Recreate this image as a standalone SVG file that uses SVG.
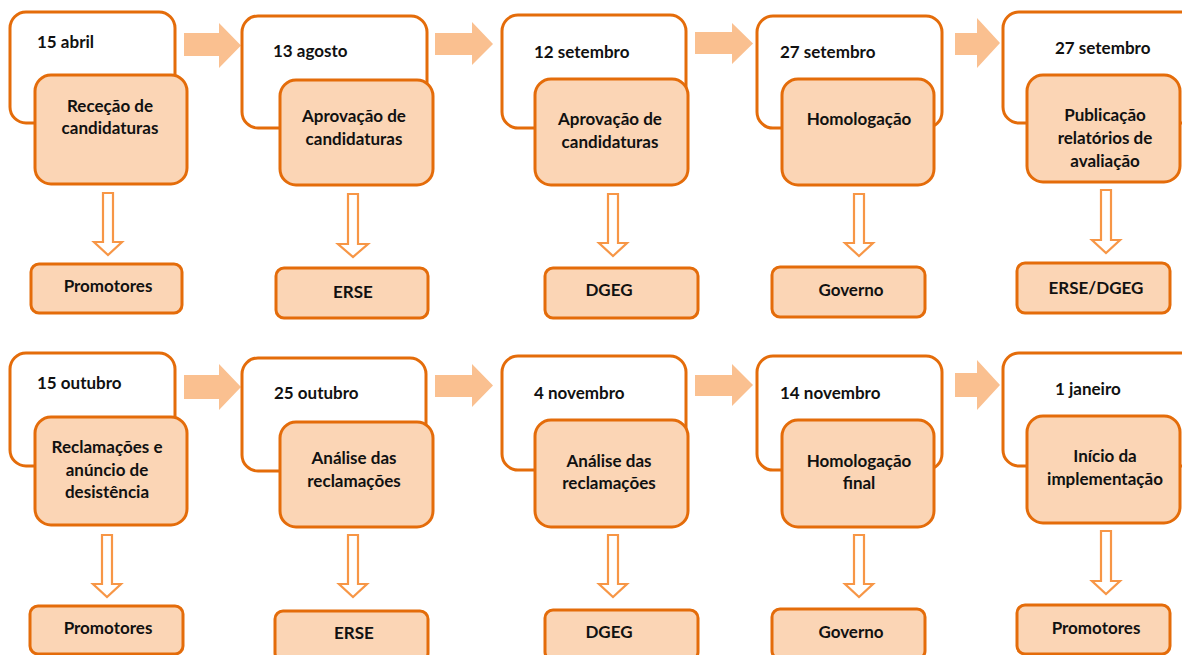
<svg xmlns="http://www.w3.org/2000/svg" width="1182" height="655" viewBox="0 0 1182 655">
<defs>
<style>
.outer{fill:#FFFFFF;stroke:#E46C0A;stroke-width:3}
.inner{fill:#FBD5B5;stroke:#E46C0A;stroke-width:3}
.who{fill:#FBD5B5;stroke:#E46C0A;stroke-width:3}
.blk{fill:#FAC090;stroke:none}
.hol{fill:#FFFFFF;stroke:#F79646;stroke-width:2.2;stroke-linejoin:miter}
text{font-family:Lato,"Open Sans","Liberation Sans",sans-serif;font-weight:bold;font-size:17px;fill:#111111}
.c{text-anchor:middle}
</style>
</defs>
<rect width="1182" height="655" fill="#FFFFFF"/>

<g id="connectors">
<path class="blk" d="M184,33 H219 V23 L241,45.5 L219,68 V56 H184 Z"/>
<path class="blk" d="M435,33 H472 V22 L493,44 L472,65 V55 H435 Z"/>
<path class="blk" d="M695,32 H732 V23 L753,43.5 L732,64 V54 H695 Z"/>
<path class="blk" d="M955,33 H977 V18 L1000,43 L977,68 V55 H955 Z"/>
<path class="blk" d="M184,375 H219 V364 L241,387 L219,410 V399 H184 Z"/>
<path class="blk" d="M435,375 H472 V364 L493,385.5 L472,407 V397 H435 Z"/>
<path class="blk" d="M695,375 H732 V364 L753,385 L732,406 V396 H695 Z"/>
<path class="blk" d="M955,373 H977 V360 L1000,385 L977,410 V397 H955 Z"/>

<path class="hol" d="M103,193 H113 V242 H122 L108,255 L94,242 H103 Z"/>
<path class="hol" d="M348,194 H358 V244 H368 L353,257 L338,244 H348 Z"/>
<path class="hol" d="M608,194 H618 V243 H627 L613,256 L599,243 H608 Z"/>
<path class="hol" d="M854,194 H864 V243 H873 L859,256 L845,243 H854 Z"/>
<path class="hol" d="M1101,190 H1111 V240 H1120 L1106,253 L1092,240 H1101 Z"/>
<path class="hol" d="M102,535 H112 V584 H121 L107,597 L93,584 H102 Z"/>
<path class="hol" d="M348,535 H358 V584 H367 L353,597 L339,584 H348 Z"/>
<path class="hol" d="M608,535 H618 V584 H627 L613,597 L599,584 H608 Z"/>
<path class="hol" d="M854,535 H864 V584 H873 L859,597 L845,584 H854 Z"/>
<path class="hol" d="M1101,531 H1111 V581 H1120 L1106,594 L1092,581 H1101 Z"/>
</g>

<g id="step1">
<rect class="outer" x="10" y="12" width="165" height="111" rx="16"/>
<text x="37" y="48">15 abril</text>
<rect class="inner" x="35" y="75" width="152" height="109" rx="16"/>
<text class="c" x="110" y="112">Receção de</text>
<text class="c" x="110" y="134">candidaturas</text>
</g>
<g id="who1"><rect class="who" x="31" y="264" width="151" height="49" rx="8"/><text class="c" x="108" y="292">Promotores</text></g>

<g id="step2">
<rect class="outer" x="242" y="16" width="185" height="112" rx="16"/>
<text x="273" y="57">13 agosto</text>
<rect class="inner" x="280" y="80" width="153" height="105" rx="16"/>
<text class="c" x="354" y="122">Aprovação de</text>
<text class="c" x="354" y="145">candidaturas</text>
</g>
<g id="who2"><rect class="who" x="276" y="268" width="152" height="50" rx="8"/><text class="c" x="353" y="298">ERSE</text></g>

<g id="step3">
<rect class="outer" x="502" y="15" width="184" height="113" rx="16"/>
<text x="534" y="58">12 setembro</text>
<rect class="inner" x="535" y="79" width="153" height="106" rx="16"/>
<text class="c" x="610" y="125">Aprovação de</text>
<text class="c" x="610" y="148">candidaturas</text>
</g>
<g id="who3"><rect class="who" x="545" y="268" width="153" height="50" rx="8"/><text class="c" x="609" y="296">DGEG</text></g>

<g id="step4">
<rect class="outer" x="757" y="16" width="185" height="112" rx="16"/>
<text x="780" y="58">27 setembro</text>
<rect class="inner" x="782" y="79" width="152" height="106" rx="16"/>
<text class="c" x="859" y="125">Homologação</text>
</g>
<g id="who4"><rect class="who" x="772" y="267" width="153" height="50" rx="8"/><text class="c" x="851" y="296">Governo</text></g>

<g id="step5">
<rect class="outer" x="1003" y="12" width="195" height="111" rx="16"/>
<text x="1055" y="54">27 setembro</text>
<rect class="inner" x="1027" y="75" width="153" height="107" rx="16"/>
<text class="c" x="1105" y="121">Publicação</text>
<text class="c" x="1105" y="144">relatórios de</text>
<text class="c" x="1105" y="167">avaliação</text>
</g>
<g id="who5"><rect class="who" x="1017" y="263" width="153" height="50" rx="8"/><text class="c" x="1096" y="294">ERSE/DGEG</text></g>

<g id="step6">
<rect class="outer" x="10" y="353" width="165" height="113" rx="16"/>
<text x="37" y="389">15 outubro</text>
<rect class="inner" x="35" y="417" width="152" height="108" rx="16"/>
<text class="c" x="107" y="453">Reclamações e</text>
<text class="c" x="107" y="476">anúncio de</text>
<text class="c" x="107" y="498">desistência</text>
</g>
<g id="who6"><rect class="who" x="30" y="606" width="153" height="48" rx="8"/><text class="c" x="108" y="634">Promotores</text></g>

<g id="step7">
<rect class="outer" x="242" y="358" width="184" height="113" rx="16"/>
<text x="274" y="399">25 outubro</text>
<rect class="inner" x="280" y="422" width="153" height="105" rx="16"/>
<text class="c" x="354" y="464">Análise das</text>
<text class="c" x="354" y="487">reclamações</text>
</g>
<g id="who7"><rect class="who" x="275" y="611" width="153" height="50" rx="8"/><text class="c" x="354" y="639">ERSE</text></g>

<g id="step8">
<rect class="outer" x="502" y="356" width="184" height="114" rx="16"/>
<text x="534" y="399">4 novembro</text>
<rect class="inner" x="535" y="420" width="153" height="107" rx="16"/>
<text class="c" x="609" y="467">Análise das</text>
<text class="c" x="609" y="489">reclamações</text>
</g>
<g id="who8"><rect class="who" x="545" y="610" width="153" height="50" rx="8"/><text class="c" x="609" y="638">DGEG</text></g>

<g id="step9">
<rect class="outer" x="757" y="356" width="185" height="114" rx="16"/>
<text x="780" y="399">14 novembro</text>
<rect class="inner" x="782" y="420" width="152" height="107" rx="16"/>
<text class="c" x="859" y="467">Homologação</text>
<text class="c" x="859" y="489">final</text>
</g>
<g id="who9"><rect class="who" x="772" y="609" width="153" height="50" rx="8"/><text class="c" x="851" y="638">Governo</text></g>

<g id="step10">
<rect class="outer" x="1003" y="353" width="195" height="113" rx="16"/>
<text x="1055" y="395">1 janeiro</text>
<rect class="inner" x="1027" y="416" width="153" height="107" rx="16"/>
<text class="c" x="1105" y="462">Início da</text>
<text class="c" x="1105" y="485">implementação</text>
</g>
<g id="who10"><rect class="who" x="1017" y="605" width="153" height="49" rx="8"/><text class="c" x="1096" y="634">Promotores</text></g>
</svg>
